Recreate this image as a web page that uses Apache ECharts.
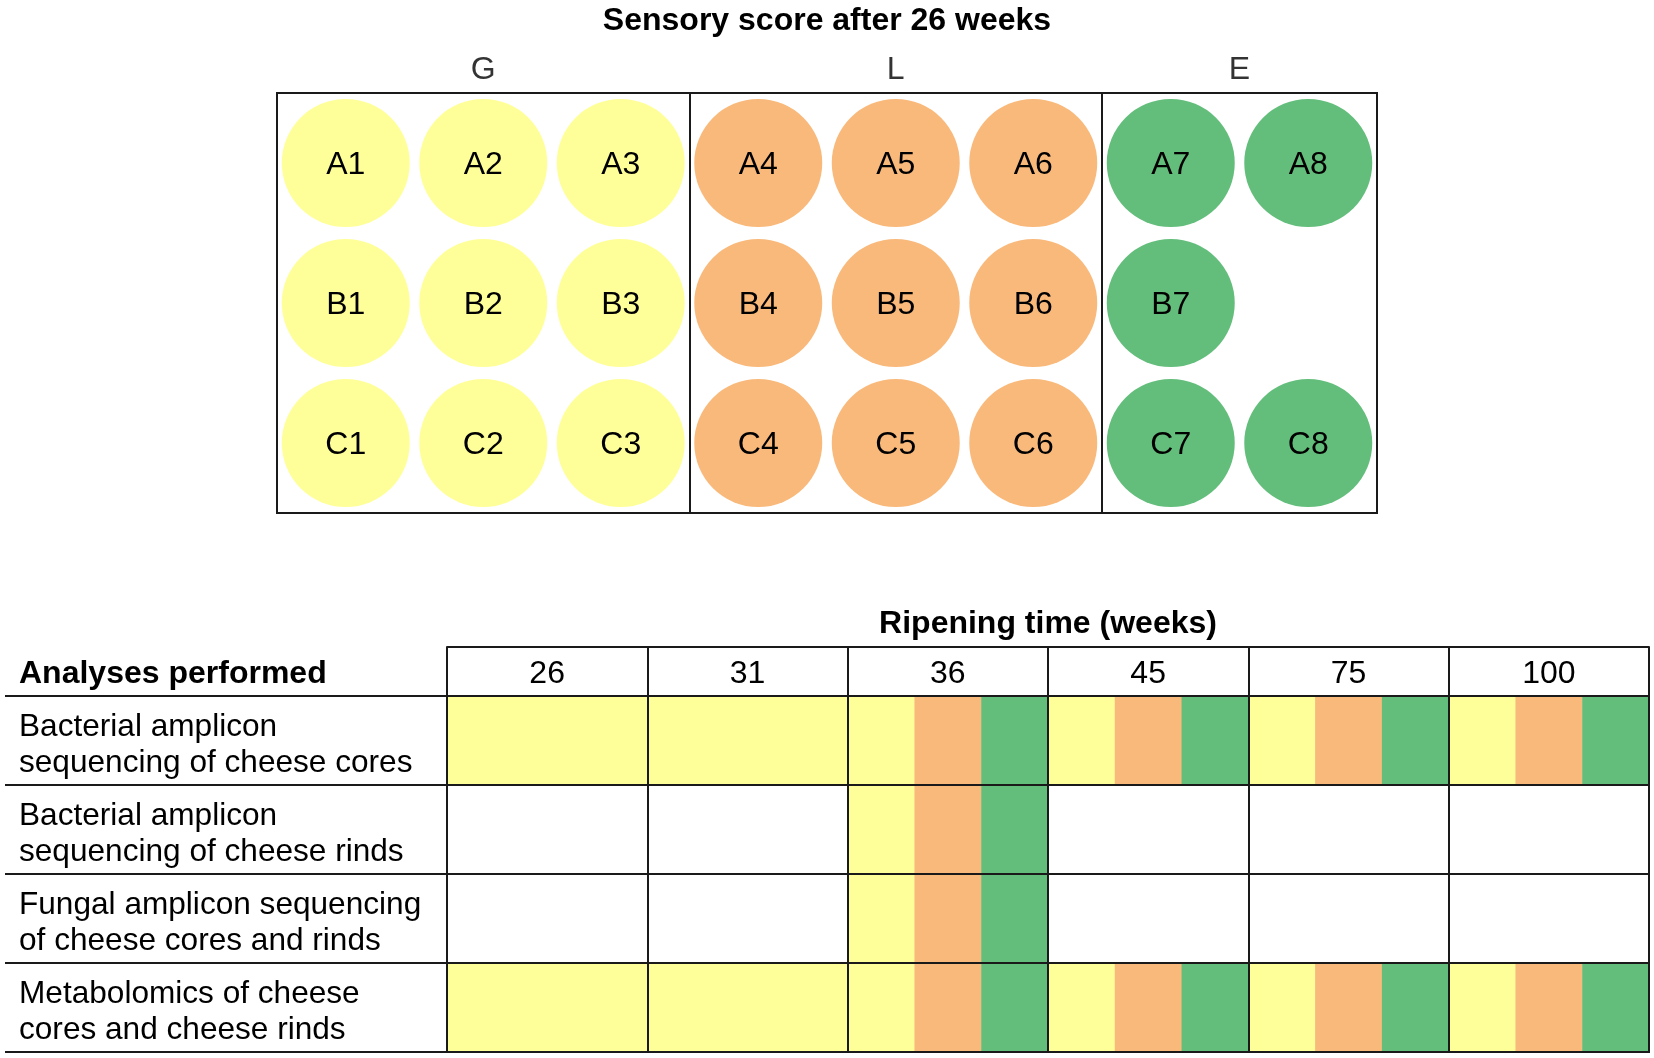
<!DOCTYPE html>
<html>
<head>
    <meta charset="utf-8">
    <title>Sensory score and analyses</title>
    <script src="https://cdn.jsdelivr.net/npm/echarts@6/dist/echarts.min.js"></script>
    <style>
        html, body { margin: 0; padding: 0; background: #fff; }
    </style>
</head>
<body>
<div id="main" style="width: 1654px;height:1058px;"></div>

<script>
    // sensory groups and the cheese wells in each
    var groupNames  = ['G', 'L', 'E'];
    var groupColors = ['#FFFF99', '#F9B97B', '#63BE7B'];
    var gWells = ['A1', 'A2', 'A3', 'B1', 'B2', 'B3', 'C1', 'C2', 'C3'];
    var lWells = ['A4', 'A5', 'A6', 'B4', 'B5', 'B6', 'C4', 'C5', 'C6'];
    var eWells = ['A7', 'A8', 'B7', 'C7', 'C8'];
    var groupWells = [gWells, lWells, eWells];

    // ripening schedule
    var weeks = ['26', '31', '36', '45', '75', '100'];
    var analyses = [
        'Bacterial amplicon\nsequencing of cheese cores',
        'Bacterial amplicon\nsequencing of cheese rinds',
        'Fungal amplicon sequencing\nof cheese cores and rinds',
        'Metabolomics of cheese\ncores and cheese rinds'
    ];
    // groups sampled per analysis and week (index into groupNames)
    var coresSampled  = [[0], [0], [0, 1, 2], [0, 1, 2], [0, 1, 2], [0, 1, 2]];
    var rindsSampled  = [[], [], [0, 1, 2], [], [], []];
    var fungalSampled = [[], [], [0, 1, 2], [], [], []];
    var metabSampled  = [[0], [0], [0, 1, 2], [0, 1, 2], [0, 1, 2], [0, 1, 2]];
    var schedule = [coresSampled, rindsSampled, fungalSampled, metabSampled];

    var font = 'Liberation Sans, Arial, sans-serif';
    var fs = 32;
    var lineCol = '#1a1a1a';

    function wellPos(name) {
        return [parseInt(name.slice(1), 10) - 0.5, 'ABC'.indexOf(name[0]) + 0.5];
    }

    var wellSeries = groupWells.map(function (list, gi) {
        return {
            name: groupNames[gi],
            type: 'scatter',
            xAxisIndex: 0,
            yAxisIndex: 0,
            symbol: 'circle',
            symbolSize: 128,
            itemStyle: { color: groupColors[gi], opacity: 1 },
            label: {
                show: true,
                position: 'inside',
                offset: [0, 2],
                color: '#000',
                fontFamily: font,
                fontSize: fs,
                formatter: function (p) { return p.data[2]; }
            },
            data: list.map(function (w) { var p = wellPos(w); return [p[0], p[1], w]; })
        };
    });

    // column span of each group, from its wells
    var groupSpan = groupWells.map(function (list) {
        var cols = list.map(function (w) { return wellPos(w)[0]; });
        return [Math.min.apply(null, cols) - 0.5, Math.max.apply(null, cols) + 0.5];
    });

    wellSeries[0].markLine = {
        silent: true,
        symbol: ['none', 'none'],
        label: { show: false },
        lineStyle: { color: lineCol, width: 2, type: 'solid' },
        data: groupSpan.slice(1).map(function (s) { return { xAxis: s[0] }; })
    };

    var groupLabelSeries = {
        type: 'scatter',
        xAxisIndex: 0,
        yAxisIndex: 0,
        symbolSize: 1,
        itemStyle: { color: 'rgba(0,0,0,0)' },
        silent: true,
        label: {
            show: true,
            position: 'top',
            distance: 6,
            color: '#000',
            fontFamily: font,
            fontSize: fs,
            formatter: function (p) { return p.data[2]; }
        },
        data: groupSpan.map(function (s, i) { return [(s[0] + s[1]) / 2, 0, groupNames[i]]; })
    };

    // table stripes: one item per sampled group in a cell
    var stripes = [];
    schedule.forEach(function (row, ri) {
        row.forEach(function (gs, wi) {
            gs.forEach(function (g, k) {
                stripes.push([wi, ri, k, gs.length, g]);
            });
        });
    });

    var stripeSeries = {
        type: 'custom',
        xAxisIndex: 1,
        yAxisIndex: 1,
        z: 1,
        silent: true,
        renderItem: function (params, api) {
            var c = api.coord([api.value(0), api.value(1)]);
            var size = api.size([1, 1]);
            var n = api.value(3), k = api.value(2);
            var x0 = c[0] - size[0] / 2 + size[0] * k / n;
            return {
                type: 'rect',
                shape: { x: x0, y: c[1] - size[1] / 2, width: size[0] / n + 0.5, height: size[1] },
                style: { fill: groupColors[api.value(4)] }
            };
        },
        data: stripes
    };

    var chart = echarts.init(document.getElementById('main'));
    chart.setOption({
        backgroundColor: '#fff',
        animation: false,
        title: [{
            text: 'Sensory score after 26 weeks',
            left: 'center',
            top: 5,
            padding: 0,
            textStyle: { fontFamily: font, fontSize: fs, fontWeight: 'bold', color: '#000' }
        }, {
            text: 'Analyses performed',
            left: 19,
            top: 658,
            padding: 0,
            textStyle: { fontFamily: font, fontSize: fs, fontWeight: 'bold', color: '#000' }
        }],
        grid: [{
            left: 277, top: 93, width: 1100, height: 420,
            show: true, borderColor: lineCol, borderWidth: 2, z: 10
        }, {
            left: 447, top: 696, width: 1202, height: 356,
            show: true, borderColor: lineCol, borderWidth: 2, z: 10
        }],
        xAxis: [{
            gridIndex: 0, type: 'value', min: 0, max: 8, show: false
        }, {
            gridIndex: 1,
            type: 'category',
            data: weeks,
            position: 'top',
            offset: 49,
            z: 10,
            name: 'Ripening time (weeks)',
            nameLocation: 'middle',
            nameGap: 7,
            nameTextStyle: { fontFamily: font, fontSize: fs, fontWeight: 'bold', color: '#000' },
            axisLine: { show: true, lineStyle: { color: lineCol, width: 2 } },
            axisTick: { show: true, inside: true, length: 49, alignWithLabel: false, lineStyle: { color: lineCol, width: 2 } },
            axisLabel: { inside: true, margin: 11, color: '#000', fontFamily: font, fontSize: fs },
            splitLine: { show: true, lineStyle: { color: lineCol, width: 2 } }
        }],
        yAxis: [{
            gridIndex: 0, type: 'value', min: 0, max: 3, inverse: true, show: false
        }, {
            gridIndex: 1,
            type: 'category',
            data: analyses,
            inverse: true,
            z: 10,
            axisLine: { show: false },
            axisTick: { show: true, length: 442, alignWithLabel: false, lineStyle: { color: lineCol, width: 2 } },
            axisLabel: {
                align: 'left', margin: 428, color: '#000',
                formatter: function (v) { return '{t|' + v.split('\n').join('}\n{t|') + '}'; },
                rich: { t: { fontFamily: font, fontSize: 31.6, lineHeight: 36, padding: [10, 0, 0, 0], color: '#000' } }
            },
            splitLine: { show: true, lineStyle: { color: lineCol, width: 2 } }
        }],
        series: wellSeries.concat([groupLabelSeries, stripeSeries])
    });
</script>
</body>
</html>
